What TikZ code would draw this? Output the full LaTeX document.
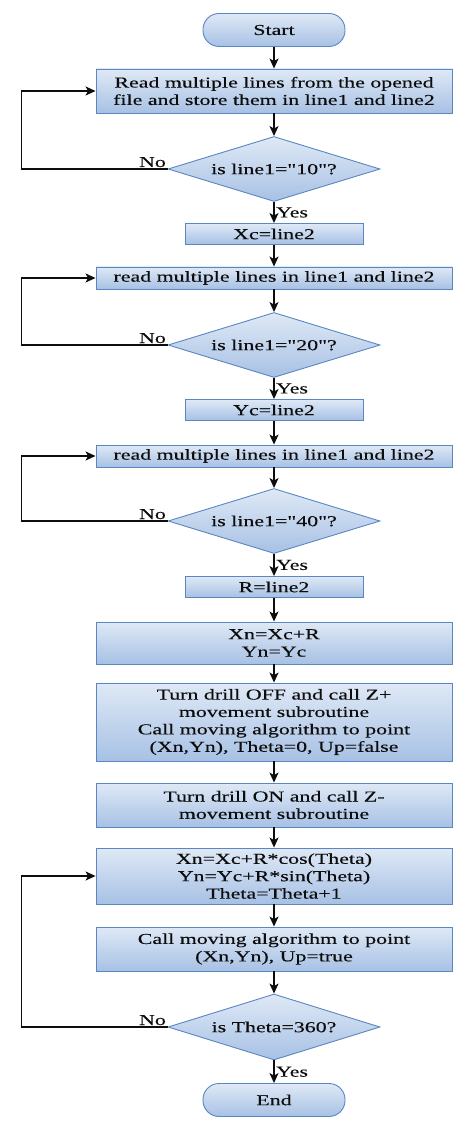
\documentclass[tikz,border=0pt]{standalone}
\usepackage{fontspec}
\setmainfont{Liberation Serif}[FakeStretch=1.44, Ligatures=TeXOff, FakeBold=0.25]
\usetikzlibrary{shapes.geometric,arrows.meta}
\definecolor{bord}{HTML}{5A86C2}
\definecolor{ftop}{HTML}{DFE9F6}
\definecolor{fbot}{HTML}{A7C1E4}
\definecolor{ink}{HTML}{0D0D0D}
\begin{document}
\begin{tikzpicture}[x=1pt,y=-1pt,
  txt/.style={font=\fontsize{15.2}{17.4}\selectfont, text=ink},
  shade/.style={draw=bord, line width=0.9pt, top color=ftop, bottom color=fbot},
  box/.style={shade, txt, align=center, inner sep=0pt, minimum width=356pt},
  sbox/.style={box, minimum width=178pt, minimum height=21pt},
  term/.style={shade, txt, rounded corners=16pt, minimum width=142pt, minimum height=33pt, inner sep=0pt},
  dia/.style={diamond, shade, txt, aspect=3.2, inner sep=0pt, minimum width=212pt, minimum height=65pt},
  arr/.style={draw=ink, line width=1.3pt, -{Stealth[length=10pt,width=9pt,inset=2.5pt]}},
  lbl/.style={txt, inner sep=1.5pt}]
\useasboundingbox (0,0) rectangle (474,1131);

\node[term] (start) at (274,30) {Start};
\node[box, minimum height=44pt] (b1) at (274,91) {Read multiple lines from the opened\\file and store them in line1 and line2};
\node[dia] (d1) at (274,169) {is line1="10"?};
\node[sbox] (xc) at (274,234) {Xc=line2};
\node[box, minimum height=22pt] (b2) at (274,278) {read multiple lines in line1 and line2};
\node[dia] (d2) at (274,345) {is line1="20"?};
\node[sbox] (yc) at (274,410) {Yc=line2};
\node[box, minimum height=22pt] (b3) at (274,456) {read multiple lines in line1 and line2};
\node[dia] (d3) at (274,521) {is line1="40"?};
\node[sbox] (rr) at (274,587) {R=line2};
\node[box, minimum height=42pt] (xn) at (274,643) {Xn=Xc+R\\Yn=Yc};
\node[box, minimum height=78pt] (off) at (274,722) {Turn drill OFF and call Z+\\movement subroutine\\Call moving algorithm to point\\(Xn,Yn), Theta=0, Up=false};
\node[box, minimum height=44pt] (on) at (274,805) {Turn drill ON and call Z-\\movement subroutine};
\node[box, minimum height=56pt] (cs) at (274,876) {Xn=Xc+R*cos(Theta)\\Yn=Yc+R*sin(Theta)\\Theta=Theta+1};
\node[box, minimum height=44pt] (mv) at (274,949) {Call moving algorithm to point\\(Xn,Yn), Up=true};
\node[dia, minimum height=66pt] (d4) at (274,1027) {is Theta=360?};
\node[term] (end) at (274,1100) {End};

\draw[arr] (start) -- (b1);
\draw[arr] (b1) -- (d1);
\draw[arr] (d1) -- (xc) node[lbl, midway, right] {Yes};
\draw[arr] (xc) -- (b2);
\draw[arr] (b2) -- (d2);
\draw[arr] (d2) -- (yc) node[lbl, midway, right] {Yes};
\draw[arr] (yc) -- (b3);
\draw[arr] (b3) -- (d3);
\draw[arr] (d3) -- (rr) node[lbl, midway, right] {Yes};
\draw[arr] (rr) -- (xn);
\draw[arr] (xn) -- (off);
\draw[arr] (off) -- (on);
\draw[arr] (on) -- (cs);
\draw[arr] (cs) -- (mv);
\draw[arr] (mv) -- (d4);
\draw[arr] (d4) -- (end) node[lbl, midway, right] {Yes};

\draw[arr] (d1.west) -- ++(-146,0) |- (b1.west);
\draw[arr] (d2.west) -- ++(-146,0) |- (b2.west);
\draw[arr] (d3.west) -- ++(-146,0) |- (b3.west);
\draw[arr] (d4.west) -- ++(-146,0) |- (cs.west);

\node[lbl, anchor=base east, yshift=2pt] (n1) at (d1.west) {No};
\node[lbl, anchor=base east, yshift=2pt] (n2) at (d2.west) {No};
\node[lbl, anchor=base east, yshift=2pt] (n3) at (d3.west) {No};
\node[lbl, anchor=base east, yshift=2pt] (n4) at (d4.west) {No};
\end{tikzpicture}
\end{document}
